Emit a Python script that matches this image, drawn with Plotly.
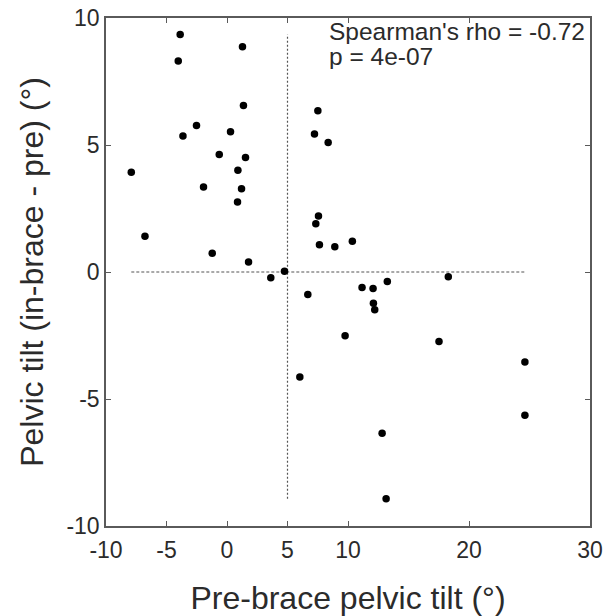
import plotly.graph_objects as go

# Pre-brace pelvic tilt (deg)
pre_brace_tilt = [
    -3.87, 1.28, -4.03, 1.36, -2.52, -3.64, 0.29, -0.64, 1.53, 0.90,
    -7.91, -1.94, 1.20, 0.87, -6.78, -1.22, 1.78, 4.75, 3.62,
    7.51, 7.23, 8.36, 7.56, 7.34, 7.64, 8.91, 10.36,
    6.68, 11.16, 12.07, 13.25, 18.29, 12.10, 12.21, 9.76, 17.52,
    24.62, 6.02, 24.62, 12.82, 13.15,
]
# Change in pelvic tilt (in-brace - pre) (deg)
tilt_change = [
    9.35, 8.87, 8.31, 6.56, 5.77, 5.35, 5.52, 4.63, 4.51, 4.01,
    3.93, 3.35, 3.28, 2.76, 1.41, 0.74, 0.39, 0.03, -0.23,
    6.35, 5.43, 5.10, 2.20, 1.90, 1.07, 0.99, 1.21,
    -0.89, -0.61, -0.65, -0.37, -0.19, -1.23, -1.49, -2.51, -2.74,
    -3.54, -4.13, -5.64, -6.35, -8.93,
]
ref_x = 5
ref_y = 0
x_ticks = [-10, -5, 0, 5, 10, 20, 30]
y_ticks = [-10, -5, 0, 5, 10]
stats_lines = ["Spearman's rho = -0.72", "p = 4e-07"]

TEXT = "#2b2b2b"
LINE = "#5a5a5a"
FONT = "Liberation Sans, Arial"

fig = go.Figure()
fig.add_trace(go.Scatter(
    x=[ref_x, ref_x], y=[min(tilt_change), max(tilt_change)],
    mode="lines", line=dict(color="#555555", width=1.2, dash="2px,2px"),
    hoverinfo="skip", showlegend=False))
fig.add_trace(go.Scatter(
    x=[min(pre_brace_tilt), max(pre_brace_tilt)], y=[ref_y, ref_y],
    mode="lines", line=dict(color="#555555", width=1.2, dash="3px,2px"),
    hoverinfo="skip", showlegend=False))
fig.add_trace(go.Scatter(
    x=pre_brace_tilt, y=tilt_change, mode="markers",
    marker=dict(color="black", size=7.5, line=dict(width=0)),
    showlegend=False))

for i, line in enumerate(stats_lines):
    fig.add_annotation(
        x=0.460, y=0.999 - 0.0496 * i, xref="paper", yref="paper",
        xanchor="left", yanchor="top", align="left", valign="middle",
        height=25, borderpad=0, borderwidth=0,
        text=line, showarrow=False,
        font=dict(family=FONT, size=24.5, color=TEXT))

axis_common = dict(
    showgrid=False, zeroline=False, showline=True, mirror="ticks",
    linecolor=LINE, linewidth=1.5, ticks="inside", ticklen=5,
    tickcolor=LINE, tickwidth=1, automargin=False,
    tickfont=dict(family=FONT, size=23, color=TEXT),
)

fig.update_layout(
    width=610, height=616,
    margin=dict(l=106, r=20, t=18, b=90),
    paper_bgcolor="white", plot_bgcolor="white",
    xaxis=dict(range=[-10, 30], tickvals=x_ticks, ticktext=[str(v) for v in x_ticks],
               ticklabelstandoff=3,
               title=dict(text="Pre-brace pelvic tilt (°)", standoff=26,
                          font=dict(family=FONT, size=32, color=TEXT)),
               **axis_common),
    yaxis=dict(range=[-10, 10], tickvals=y_ticks, ticktext=[str(v) for v in y_ticks],
               title=dict(text="Pelvic tilt (in-brace - pre) (°)", standoff=13,
                          font=dict(family=FONT, size=32, color=TEXT)),
               **axis_common),
)

fig.write_html("out.html", config={"displayModeBar": False},
               post_script="document.body.style.margin='0';")
